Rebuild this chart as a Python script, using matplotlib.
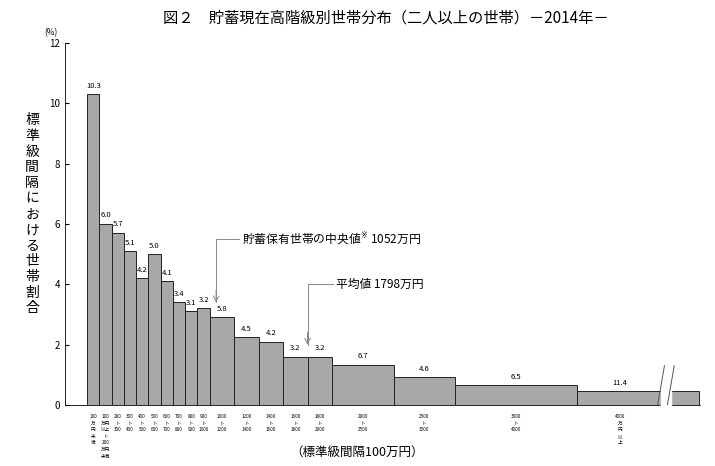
import matplotlib
matplotlib.use('Agg')
import matplotlib.pyplot as plt

plt.rcParams['font.family'] = ['Noto Sans CJK JP', 'DejaVu Sans']

# class edges in 100万円 units, labelled share (%) of households per class
edges = [0, 1, 2, 3, 4, 5, 6, 7, 8, 9, 10, 12, 14, 16, 18, 20, 25, 30, 40]
shares = [10.3, 6.0, 5.7, 5.1, 4.2, 5.0, 4.1, 3.4, 3.1, 3.2, 5.8, 4.5, 4.2, 3.2, 3.2, 6.7, 4.6, 6.5]
share_top = 11.4
top_height = 0.45
low_labels = ['100\n万\n円\n未\n満', '100\n万円\n以上\nト\n200\n万円\n未満',
              '200\nト\n300', '300\nト\n400', '400\nト\n500', '500\nト\n600',
              '600\nト\n700', '700\nト\n800', '800\nト\n900', '900\nト\n1000',
              '1000\nト\n1200', '1200\nト\n1400', '1400\nト\n1600', '1600\nト\n1800',
              '1800\nト\n2000', '2000\nト\n2500', '2500\nト\n3000', '3000\nト\n4000']
median_val = 10.52
mean_val = 17.98

fig = plt.figure(figsize=(7.15, 4.66), dpi=100)
ax = fig.add_axes([0.091, 0.131, 0.888, 0.777])
bar_c = '#a8a8a8'

for i, s in enumerate(shares):
    x0, x1 = edges[i], edges[i + 1]
    h = s / (x1 - x0)
    ax.bar(x0, h, width=x1 - x0, align='edge', color=bar_c, edgecolor='#222222', linewidth=0.7)
    ax.text((x0 + x1) / 2, h + 0.15, f'{s:.1f}', ha='center', va='bottom', fontsize=5.5)
    ax.text((x0 + x1) / 2, -0.3, low_labels[i], ha='center', va='top', fontsize=3.3, linespacing=1.4)

# open-ended top class with axis break
ax.bar(40, top_height, width=6.8, align='edge', color=bar_c, edgecolor='#222222', linewidth=0.7)
ax.bar(47.6, top_height, width=2.3, align='edge', color=bar_c, edgecolor='#222222', linewidth=0.7)
ax.text(43.5, top_height + 0.15, f'{share_top:.1f}', ha='center', va='bottom', fontsize=5.5)
ax.text(43.5, -0.3, '4000\n万\n円\n以\n上', ha='center', va='top', fontsize=3.3, linespacing=1.4)
ax.fill_between([46.8, 47.6], -0.1, 1.3, color='white', zorder=3)
for dx in (46.8, 47.6):
    ax.plot([dx - 0.3, dx + 0.3], [-0.1, 1.3], color='#555555', lw=0.7, zorder=4)

# median / mean annotations
ax.plot([median_val, median_val, 12.4], [3.4, 5.5, 5.5], color='#888888', lw=0.7)
ax.annotate('', xy=(median_val, 3.3), xytext=(median_val, 3.9),
            arrowprops=dict(arrowstyle='->', color='#888888', lw=0.7))
ax.text(12.6, 5.5, '貯蓄保有世帯の中央値$^{※}$ 1052万円', va='center', fontsize=8.5)
ax.plot([mean_val, mean_val, 20.1], [2.0, 4.0, 4.0], color='#888888', lw=0.7)
ax.annotate('', xy=(mean_val, 1.9), xytext=(mean_val, 2.5),
            arrowprops=dict(arrowstyle='->', color='#888888', lw=0.7))
ax.text(20.3, 4.0, '平均値 1798万円', va='center', fontsize=8.5)

ax.set_xlim(-1.8, 50)
ax.set_ylim(0, 12)
ax.set_yticks(range(0, 13, 2))
ax.tick_params(axis='y', labelsize=7, length=3, direction='in')
ax.set_xticks([])
for s in ['top', 'right']:
    ax.spines[s].set_visible(False)
ax.spines['left'].set_linewidth(0.6)
ax.spines['bottom'].set_linewidth(0.6)

fig.text(0.062, 0.925, '(%)', fontsize=6)
fig.text(0.045, 0.54, '\n'.join('標準級間隔における世帯割合'), ha='center', va='center',
         fontsize=10, linespacing=1.15)
fig.text(0.54, 0.962, '図２　貯蓄現在高階級別世帯分布（二人以上の世帯）－2014年－',
         ha='center', va='center', fontsize=11)
fig.text(0.5, 0.015, '（標準級間隔100万円）', ha='center', va='bottom', fontsize=9)

fig.savefig('out.png', dpi=100)
